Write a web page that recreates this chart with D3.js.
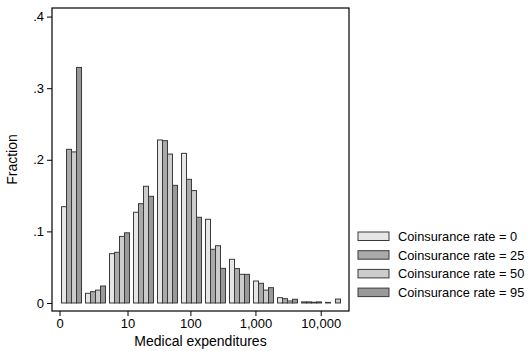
<!DOCTYPE html>
<html><head><meta charset="utf-8">
<script src="https://cdn.jsdelivr.net/npm/d3@7"></script>
<style>body{margin:0;background:#fff}svg{display:block}text{font-family:Arial,"Liberation Sans",sans-serif;fill:#000}</style>
</head><body><svg id="c" width="528" height="351"></svg>
<script>
// bins on a log10(1 + expenditure) scale: lower edge of each bin
const binStart = [0,0.3675,0.735,1.1025,1.47,1.8375,2.205,2.5725,2.94,3.3075,3.675,4.0425];
const binWidth = 0.3675;
const seriesNames = ["Coinsurance rate = 0","Coinsurance rate = 25","Coinsurance rate = 50","Coinsurance rate = 95"];
const rate0  = [0.1345,0.0135,0.0689,0.1267,0.2277,0.209,0.1169,0.061,0.0307,0.0074,0.0015,0.0008];
const rate25 = [0.2146,0.0158,0.0708,0.1387,0.2267,0.1727,0.075,0.048,0.0275,0.006,0.0015,0];
const rate50 = [0.211,0.018,0.093,0.163,0.208,0.157,0.080,0.040,0.018,0.0028,0.001,0.0055];
const rate95 = [0.329,0.0237,0.098,0.149,0.1643,0.1197,0.0484,0.040,0.0214,0.0052,0.0015,0];
const xTicks = [0,10,100,1000,10000];
const yTicks = [0,0.1,0.2,0.3,0.4];
const yTickLabels = ["0",".1",".2",".3",".4"];
const fills = ["#e6e6e6","#aaaaaa","#cccccc","#999999"];

const series = [rate0,rate25,rate50,rate95];
const svg = d3.select("#c");
const L=52,T=8,R=349,B=311;
const x = d3.scaleLinear().domain([-0.115,4.433]).range([L,R]);
const y = d3.scaleLinear().domain([-0.0112,0.412]).range([B,T]);
const sub = d3.scaleBand().domain(d3.range(4)).paddingOuter(0).paddingInner(0);

const g = svg.append("g");
binStart.forEach((b,i)=>{
  const x0 = x(b), x1 = x(b+binWidth);
  const pad = (x1-x0)*2/24;
  sub.range([x0+pad, x1-pad]);
  series.forEach((s,k)=>{
    const v = s[i];
    if (v<=0) return;
    g.append("rect")
      .attr("x", sub(k)).attr("width", sub.bandwidth())
      .attr("y", y(v)).attr("height", y(0)-y(v))
      .attr("fill", fills[k]).attr("stroke","#3a3a3a").attr("stroke-width",1);
  });
});

// frame
svg.append("rect").attr("x",L).attr("y",T).attr("width",R-L).attr("height",B-T)
  .attr("fill","none").attr("stroke","#000").attr("stroke-width",1.2);

const yAxis = d3.axisLeft(y).tickValues(yTicks).tickFormat((d,i)=>yTickLabels[i]).tickSize(5).tickPadding(3);
const ya = svg.append("g").attr("transform",`translate(${L},0)`).call(yAxis);
ya.select(".domain").remove();
ya.selectAll("text").style("font-size","13px").attr("font-family","Arial");

const xAxis = d3.axisBottom(x).tickValues(xTicks.map(v=>Math.log10(1+v)))
  .tickFormat((d,i)=>d3.format(",")(xTicks[i])).tickSize(5).tickPadding(3);
const xa = svg.append("g").attr("transform",`translate(0,${B})`).call(xAxis);
xa.select(".domain").remove();
xa.selectAll("text").style("font-size","13px").attr("font-family","Arial");

svg.append("text").attr("x",(L+R)/2).attr("y",346).attr("text-anchor","middle")
  .style("font-size","14px").text("Medical expenditures");
svg.append("text").attr("transform",`translate(17,${(T+B)/2}) rotate(-90)`).attr("text-anchor","middle")
  .style("font-size","14px").text("Fraction");

// legend
const lg = svg.append("g");
seriesNames.forEach((n,k)=>{
  const yy = 232 + k*18.7;
  lg.append("rect").attr("x",358).attr("y",yy).attr("width",31).attr("height",8.5)
    .attr("fill",fills[k]).attr("stroke","#3a3a3a").attr("stroke-width",1);
  lg.append("text").attr("x",398).attr("y",yy+9).style("font-size","12.8px").text(n);
});
</script></body></html>
